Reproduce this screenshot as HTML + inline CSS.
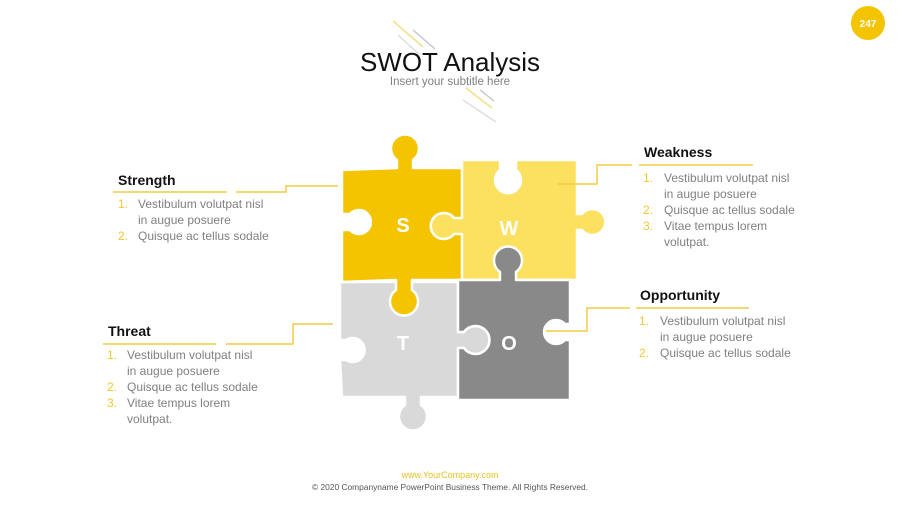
<!DOCTYPE html>
<html><head><meta charset="utf-8"><style>
body{margin:0;background:#fff;}
svg text{font-family:"Liberation Sans",sans-serif;}
.h{font-weight:bold;font-size:14px;fill:#111;}
.t{font-size:12px;fill:#808080;}
.n{font-size:12px;fill:#F0C830;}
</style></head><body>
<svg width="900" height="506" viewBox="0 0 900 506" xmlns="http://www.w3.org/2000/svg">
<rect width="900" height="506" fill="#fff"/>
<circle cx="868" cy="23" r="17" fill="#F5C400"/>
<text x="868" y="27" text-anchor="middle" font-size="10" font-weight="bold" fill="#fff">247</text>
<g stroke-width="1.5">
<line x1="393" y1="21" x2="423" y2="47" stroke="#F3E08A"/>
<line x1="398" y1="35" x2="420" y2="55" stroke="#ddd"/>
<line x1="413" y1="30" x2="435" y2="49" stroke="#ccc"/>
<line x1="466" y1="88" x2="492" y2="108" stroke="#F3E08A"/>
<line x1="463" y1="100" x2="496" y2="122" stroke="#ddd"/>
<line x1="480" y1="90" x2="494" y2="101" stroke="#ccc"/>
</g>
<text x="450" y="71" text-anchor="middle" font-size="26" fill="#111">SWOT Analysis</text>
<text x="450" y="85" text-anchor="middle" font-size="11.5" fill="#808080">Insert your subtitle here</text>

<g stroke="#fff" stroke-width="2.5" stroke-linejoin="round">
<path fill="#D9D9D9" d="M340,282 L458,282 L458,332 L464,332 A14 14 0 1 1 464,348 L458,348 L458,397 L421,397 L421,405 A14 14 0 1 1 405,405 L405,397 L342,397 L340,360 L346,360 A12 12 0 1 0 346,340 L340,340 Z"/>
<path fill="#F5C400" d="M342,170 L397,168 L397,160 A14 14 0 1 1 413,160 L413,168 L465,168 L465,280 L412,280 L412,290 A14 14 0 1 1 396,290 L396,280 L342,282 L342,230 L350,230 A12 12 0 1 0 350,214 L342,214 Z"/>
<path fill="#FCE060" d="M462,160 L500,160 L500,170 A13 13 0 1 0 516,170 L516,160 L577,160 L577,214 L582,214 A13 13 0 1 1 582,230 L577,230 L577,280 L462,280 L462,234 L454,234 A13 13 0 1 1 454,218 L462,218 Z"/>
<path fill="#898989" d="M458,280 L500,280 L500,272 A14 14 0 1 1 516,272 L516,280 L570,280 L570,324 L565,324 A12 12 0 1 0 565,340 L570,340 L570,400 L458,400 L458,348 L464,348 A14 14 0 1 0 464,332 L458,332 Z"/>
</g>
<g font-size="20" font-weight="bold" fill="#fff" text-anchor="middle">
<text x="403" y="232">S</text><text x="509" y="235">W</text>
<text x="403" y="350">T</text><text x="509" y="350">O</text>
</g>

<g stroke="#F0CC40" stroke-width="1.5" fill="none">
<path d="M113,192 H227"/><path d="M236,192 H286 V186 H338"/>
<path d="M639,165 H753"/><path d="M558,184 H597 V165 H632"/>
<path d="M636,308 H749"/><path d="M546,331 H587 V308 H630"/>
<path d="M103,344 H216"/><path d="M226,344 H293 V324 H333"/>
</g>

<text class="h" x="118" y="185">Strength</text>
<text class="n" x="118" y="208">1.</text><text class="t" x="138" y="208">Vestibulum volutpat nisl</text>
<text class="t" x="138" y="224">in augue posuere</text>
<text class="n" x="118" y="240">2.</text><text class="t" x="138" y="240">Quisque ac tellus sodale</text>

<text class="h" x="644" y="157">Weakness</text>
<text class="n" x="643" y="182">1.</text><text class="t" x="664" y="182">Vestibulum volutpat nisl</text>
<text class="t" x="664" y="198">in augue posuere</text>
<text class="n" x="643" y="214">2.</text><text class="t" x="664" y="214">Quisque ac tellus sodale</text>
<text class="n" x="643" y="230">3.</text><text class="t" x="664" y="230">Vitae tempus lorem</text>
<text class="t" x="664" y="246">volutpat.</text>

<text class="h" x="640" y="300">Opportunity</text>
<text class="n" x="639" y="325">1.</text><text class="t" x="660" y="325">Vestibulum volutpat nisl</text>
<text class="t" x="660" y="341">in augue posuere</text>
<text class="n" x="639" y="357">2.</text><text class="t" x="660" y="357">Quisque ac tellus sodale</text>

<text class="h" x="108" y="336">Threat</text>
<text class="n" x="107" y="359">1.</text><text class="t" x="127" y="359">Vestibulum volutpat nisl</text>
<text class="t" x="127" y="375">in augue posuere</text>
<text class="n" x="107" y="391">2.</text><text class="t" x="127" y="391">Quisque ac tellus sodale</text>
<text class="n" x="107" y="407">3.</text><text class="t" x="127" y="407">Vitae tempus lorem</text>
<text class="t" x="127" y="423">volutpat.</text>

<text x="450" y="478" text-anchor="middle" font-size="9" fill="#E8C020">www.YourCompany.com</text>
<text x="450" y="490" text-anchor="middle" font-size="8.4" fill="#555">© 2020 Companyname PowerPoint Business Theme. All Rights Reserved.</text>
</svg>
</body></html>
